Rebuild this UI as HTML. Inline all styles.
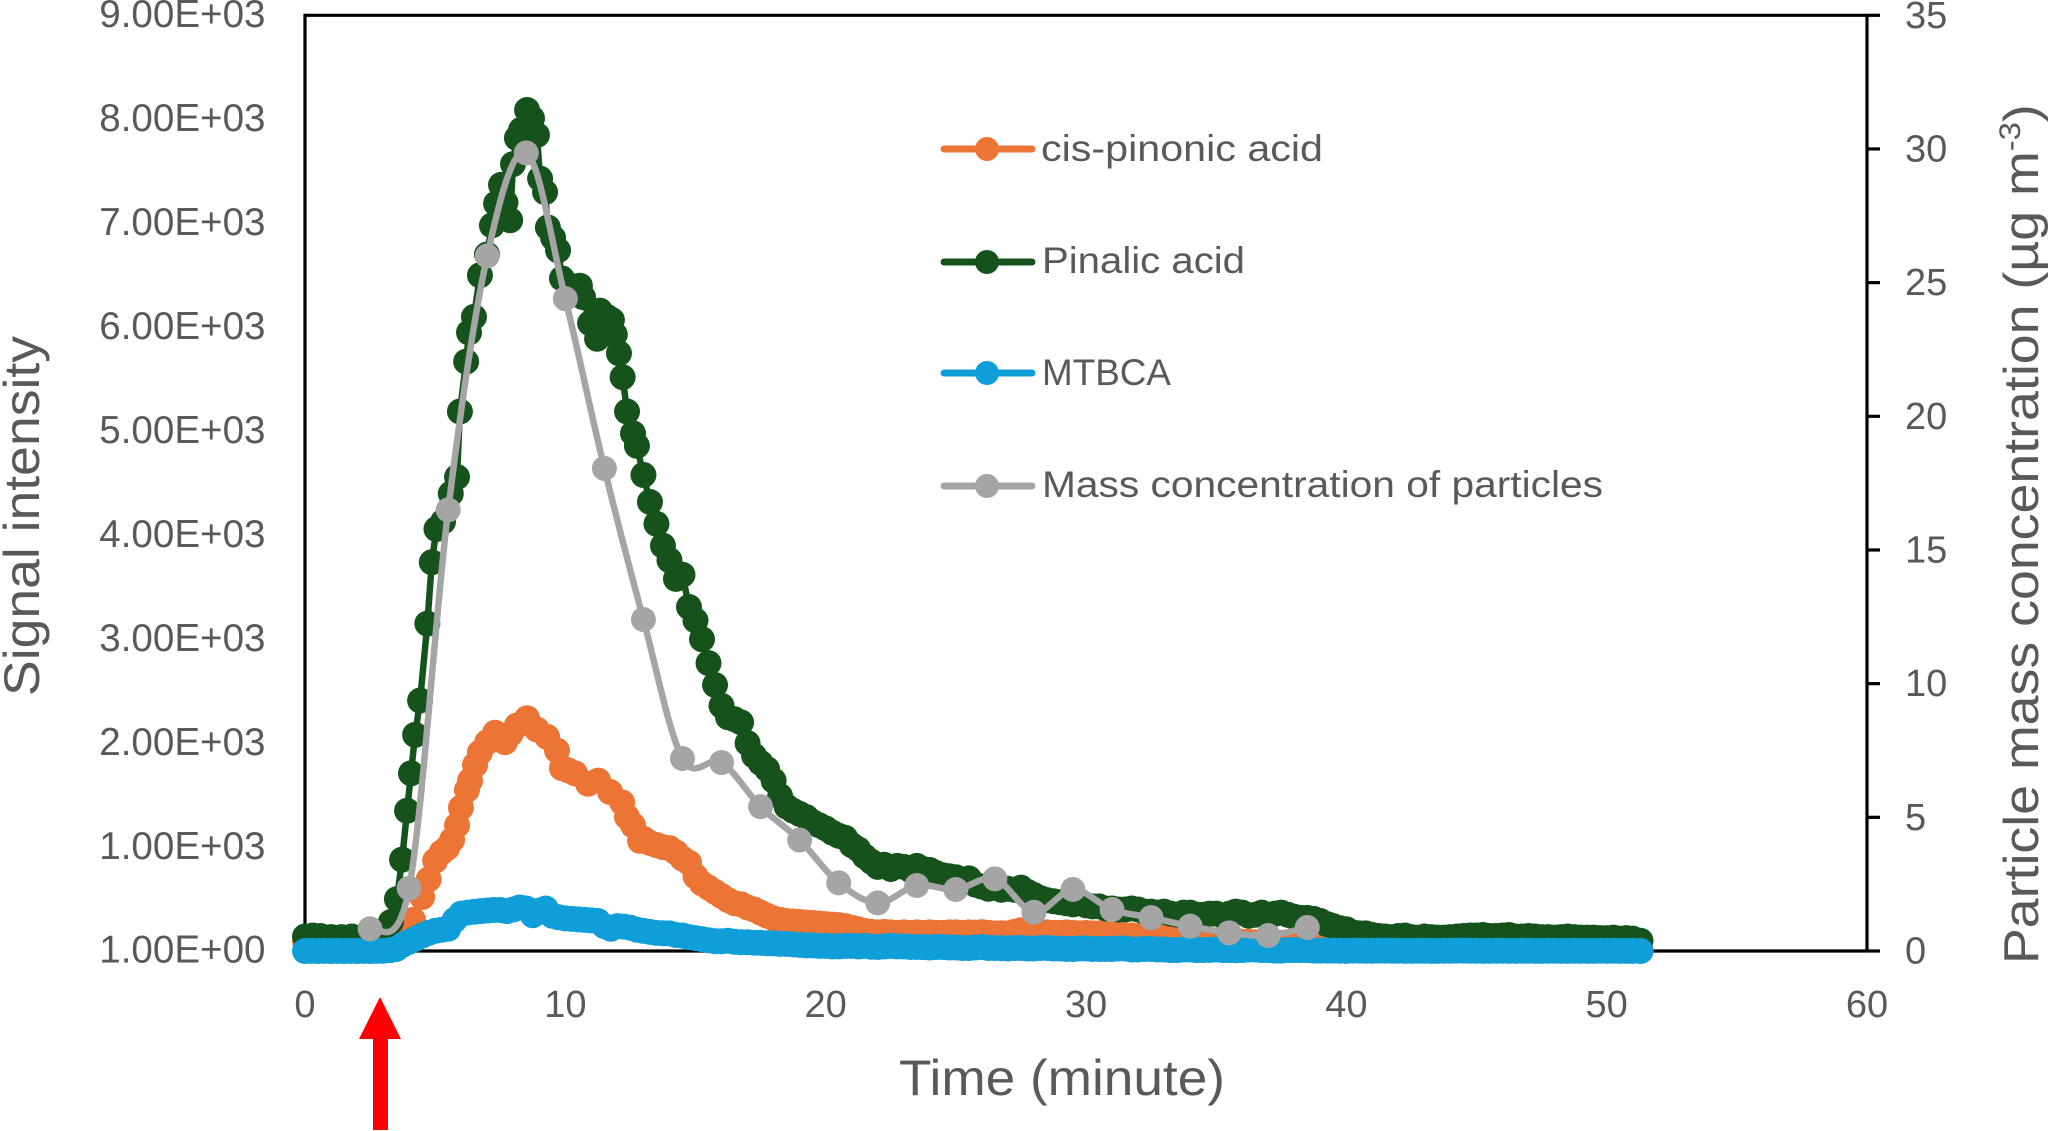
<!DOCTYPE html>
<html lang="en">
<head>
<meta charset="utf-8">
<title>Signal intensity and particle mass concentration over time</title>
<style>
  html, body { margin: 0; padding: 0; background: #fff; }
  body { width: 2049px; height: 1131px; overflow: hidden; }
  svg { display: block; font-family: "Liberation Sans", Arial, sans-serif; fill: #595959; }
</style>
</head>
<body>
<svg id="chart" xmlns="http://www.w3.org/2000/svg" width="2049" height="1131" viewBox="0 0 2049 1131">
  <rect x="0" y="0" width="2049" height="1131" fill="#ffffff"/>

  <g id="axes"></g>
  <g id="series"></g>
  <g id="labels"></g>

  <text transform="translate(39,696) rotate(-90)" font-size="50" textLength="360" lengthAdjust="spacingAndGlyphs">Signal intensity</text>
  <text x="899" y="1095" font-size="50" textLength="326" lengthAdjust="spacingAndGlyphs">Time (minute)</text>
  <text transform="translate(2038,964) rotate(-90) scale(1.096,1)" font-size="49">Particle mass concentration (µg m<tspan font-size="30" dy="-18">-3</tspan><tspan dy="18">)</tspan></text>

  <polygon fill="#ff0000" points="380,997 401,1039 388,1039 388,1130 373,1130 373,1039 359,1039"/>

  <g>
    <g>
      <line x1="944" x2="1032" y1="149" y2="149" stroke="#EC7434" stroke-width="7" stroke-linecap="round"/>
      <circle cx="987" cy="149" r="12" fill="#EC7434"/>
      <text x="1041" y="161" font-size="37" textLength="282" lengthAdjust="spacingAndGlyphs">cis-pinonic acid</text>
    </g>
    <g>
      <line x1="944" x2="1032" y1="262" y2="262" stroke="#15521C" stroke-width="7" stroke-linecap="round"/>
      <circle cx="987" cy="262" r="12" fill="#15521C"/>
      <text x="1042" y="273" font-size="37" textLength="203" lengthAdjust="spacingAndGlyphs">Pinalic acid</text>
    </g>
    <g>
      <line x1="944" x2="1032" y1="373" y2="373" stroke="#0F9ED8" stroke-width="7" stroke-linecap="round"/>
      <circle cx="987" cy="373" r="12" fill="#0F9ED8"/>
      <text x="1042" y="385" font-size="37" textLength="129" lengthAdjust="spacingAndGlyphs">MTBCA</text>
    </g>
    <g>
      <line x1="944" x2="1032" y1="486" y2="486" stroke="#A5A5A5" stroke-width="7" stroke-linecap="round"/>
      <circle cx="987" cy="486" r="12" fill="#A5A5A5"/>
      <text x="1042" y="497" font-size="37" textLength="561" lengthAdjust="spacingAndGlyphs">Mass concentration of particles</text>
    </g>
  </g>
</svg>

<script>
// ---- data ----
const xTicks = [0, 10, 20, 30, 40, 50, 60];
const leftTicks = [1, 1000, 2000, 3000, 4000, 5000, 6000, 7000, 8000, 9000];
const leftTickLabels = ['1.00E+00','1.00E+03','2.00E+03','3.00E+03','4.00E+03','5.00E+03','6.00E+03','7.00E+03','8.00E+03','9.00E+03'];
const rightTicks = [0, 5, 10, 15, 20, 25, 30, 35];

// sample times shared by the decay part of the three signal series
const tailTime = [
  13,13.25,13.5,13.75,14,14.25,14.5,14.75,
  15,15.25,15.5,15.75,16,16.25,16.5,16.75,
  17,17.25,17.5,17.75,18,18.25,18.5,18.75,
  19,19.25,19.5,19.75,20,20.25,20.5,20.75,
  21,21.25,21.5,21.75,22,22.25,22.5,22.75,
  23,23.25,23.5,23.75,24,24.25,24.5,24.75,
  25,25.25,25.5,25.75,26,26.25,26.5,26.75,
  27,27.25,27.5,27.75,28,28.25,28.5,28.75,
  29,29.25,29.5,29.75,30,30.25,30.5,30.75,
  31,31.25,31.5,31.75,32,32.25,32.5,32.75,
  33,33.25,33.5,33.75,34,34.25,34.5,34.75,
  35,35.25,35.5,35.75,36,36.25,36.5,36.75,
  37,37.25,37.5,37.75,38,38.25,38.5,38.75,
  39,39.25,39.5,39.75,40,40.25,40.5,40.75,
  41,41.25,41.5,41.75,42,42.25,42.5,42.75,
  43,43.25,43.5,43.75,44,44.25,44.5,44.75,
  45,45.25,45.5,45.75,46,46.25,46.5,46.75,
  47,47.25,47.5,47.75,48,48.25,48.5,48.75,
  49,49.25,49.5,49.75,50,50.25,50.5,50.75,
  51,51.3];

const orangeHeadTime = [0,0.5,1,1.5,2,2.5,3,3.3,3.6,3.9,4.15,4.5,4.75,5,5.25,5.45,5.65,5.84,5.99,6.22,6.34,6.53,6.72,7,7.3,7.68,7.9,8.14,8.53,8.91,9.3,9.68,9.87,10.1,10.37,10.87,11.26,11.72,12.18,12.37,12.6,12.87];
const orangeHeadValues = [90,90,90,90,90,90,95,100,130,200,300,520,690,870,950,990,1070,1210,1380,1550,1640,1790,1910,2010,2100,2010,2090,2170,2240,2130,2060,1930,1760,1740,1710,1610,1640,1530,1430,1290,1210,1060];
const orangeTailValues = [
  1080,1040,1020,1000,990,950,890,850,
  720,650,610,570,530,490,460,450,
  420,400,370,340,315,300,290,285,
  280,275,270,265,260,255,250,240,
  225,210,195,185,180,185,180,175,
  180,175,180,175,180,175,175,180,
  180,175,180,178,182,175,170,172,
  170,185,200,190,190,185,180,175,
  175,180,175,170,175,170,170,165,
  170,160,150,150,145,140,135,130,
  130,125,125,120,110,100,105,100,
  95,90,95,85,90,90,85,90,
  90,85,80,80,75,75,75,60,
  45,40,35,30,30,25,25,25,
  20,20,20,20,20,20,20,20,
  20,20,20,20,20,20,20,20,
  15,15,15,15,15,15,15,15,
  15,15,15,15,15,15,15,15,
  10,10,10,10,10,10,10,10,
  10,10];

const greenHeadTime = [0,0.3,0.6,1,1.4,1.8,2.2,2.6,3,3.3,3.53,3.73,3.92,4.07,4.23,4.42,4.7,4.87,5.05,5.3,5.6,5.84,5.95,6.19,6.3,6.49,6.72,6.99,7.18,7.34,7.53,7.7,7.88,7.99,8.14,8.3,8.53,8.72,8.91,9.03,9.22,9.33,9.53,9.72,9.87,10.2,10.56,10.68,10.95,11.22,11.33,11.6,11.79,11.9,12.06,12.2,12.37,12.6,12.75];
const greenHeadValues = [140,150,145,135,135,140,135,140,150,280,500,880,1350,1710,2080,2410,3150,3740,4060,4130,4400,4560,5190,5670,5950,6100,6500,6700,6980,7190,7370,7200,7030,7570,7820,7900,8090,8010,7850,7430,7300,6960,6860,6740,6470,6400,6400,6290,6040,5890,6160,6100,6070,5930,5750,5520,5190,4980,4860];
const greenTailValues = [
  4580,4320,4110,3900,3760,3580,3620,3310,
  3180,3000,2770,2560,2360,2250,2230,2200,
  2000,1880,1810,1750,1640,1490,1390,1350,
  1320,1290,1240,1210,1180,1140,1110,1090,
  1020,980,910,860,810,830,790,820,
  810,780,820,790,780,750,730,720,
  710,680,700,640,620,600,610,590,
  600,590,610,570,540,510,490,480,
  470,460,450,460,440,430,430,410,
  410,400,400,410,400,380,380,370,
  380,360,350,370,370,350,350,360,
  360,340,360,380,370,340,350,370,
  340,360,370,350,330,320,320,310,
  290,260,240,220,210,180,170,170,
  155,145,140,135,145,150,135,130,
  140,135,130,130,135,140,145,150,
  150,155,145,145,150,155,140,140,
  145,140,135,135,130,135,140,135,
  130,130,130,125,125,130,120,125,
  120,100];

const blueHeadTime = [
  0,0.25,0.5,0.75,1,1.25,1.5,1.75,
  2,2.25,2.5,2.75,3,3.25,3.5,3.75,
  4,4.25,4.5,4.75,5,5.25,5.5,5.75,
  6,6.25,6.5,6.75,7,7.25,7.5,7.75,
  8,8.25,8.5,8.75,9,9.25,9.5,9.75,
  10,10.25,10.5,10.75,11,11.25,11.5,11.75,
  12,12.25,12.5,12.75];
const blueHeadValues = [
  1,2,1,2,1,2,1,2,
  1,2,1,2,3,8,20,60,
  90,120,150,175,195,205,215,300,
  360,370,378,385,390,395,395,385,
  400,420,410,345,390,410,340,325,
  315,310,305,300,295,290,240,215,
  240,235,225,205];
const blueTailValues = [
  195,185,175,172,170,155,150,135,
  125,115,105,95,95,100,90,85,
  85,80,80,75,75,70,70,65,
  60,55,55,50,50,45,45,50,
  50,45,50,42,40,45,50,45,
  45,40,40,38,35,40,40,35,
  35,30,30,35,40,30,30,28,
  25,30,30,25,25,30,30,25,
  25,20,20,25,25,20,20,20,
  20,25,25,15,15,20,20,15,
  15,10,10,15,15,10,10,12,
  15,10,10,8,10,15,15,10,
  10,5,5,10,10,10,10,5,
  5,5,5,3,2,5,5,3,
  3,5,5,3,3,2,2,4,
  4,2,2,3,3,5,5,3,
  3,2,2,4,4,2,2,3,
  3,2,2,3,3,2,2,3,
  2,2,2,3,2,3,2,2,
  2,1];

const massTime = [2.5,4,5.5,7,8.5,10,11.5,13,14.5,16,17.5,19,20.5,22,23.5,25,26.5,28,29.5,31,32.5,34,35.5,37,38.5];
const massValues = [0.83,2.35,16.5,26.0,29.85,24.4,18.05,12.4,7.2,7.05,5.4,4.15,2.55,1.8,2.45,2.3,2.7,1.45,2.3,1.55,1.25,0.93,0.68,0.58,0.88];

// ---- axis functions ----
const PLOT = { left: 305, right: 1867, top: 15.3, bottom: 951 };
function xScale(t) { return PLOT.left + (t / 60) * (PLOT.right - PLOT.left); }
function yLeft(v) { return PLOT.bottom - ((v - 1) / 9000) * (PLOT.bottom - PLOT.top); }
function yRight(v) { return PLOT.bottom - (v / 35) * (PLOT.bottom - PLOT.top); }

const NS = 'http://www.w3.org/2000/svg';
function make(tag, parent) {
  const el = document.createElementNS(NS, tag);
  parent.appendChild(el);
  return el;
}
function setAll(el, attrs) {
  for (const key in attrs) { el.setAttribute(key, attrs[key]); }
}

const axesLayer = document.getElementById('axes');
const seriesLayer = document.getElementById('series');
const labelLayer = document.getElementById('labels');

// ---- axis frame ----
const leftAxis = make('line', axesLayer);


setAll(leftAxis, { x1: PLOT.left, x2: PLOT.left, y1: PLOT.top - 1.6, y2: PLOT.bottom, stroke: '#000', 'stroke-width': 3.2 });

const topAxis = make('line', axesLayer);


setAll(topAxis, { x1: PLOT.left, x2: PLOT.right, y1: PLOT.top, y2: PLOT.top, stroke: '#000', 'stroke-width': 3.2 });

const rightAxis = make('line', axesLayer);


setAll(rightAxis, { x1: PLOT.right, x2: PLOT.right, y1: PLOT.top, y2: PLOT.bottom, stroke: '#000', 'stroke-width': 3.2 });

const bottomAxis = make('line', axesLayer);


setAll(bottomAxis, { x1: PLOT.left, x2: PLOT.right, y1: PLOT.bottom, y2: PLOT.bottom, stroke: '#000', 'stroke-width': 3.2 });

// ---- ticks and labels ----
xTicks.forEach(function (t) {
  const label = make('text', labelLayer);
  
  
  setAll(label, { x: xScale(t), y: 1017, 'font-size': 38, 'text-anchor': 'middle' });
  label.textContent = String(t);
});

leftTicks.forEach(function (v, i) {
  const label = make('text', labelLayer);
  
  
  setAll(label, { x: 265.5, y: yLeft(v) + 11.7, 'font-size': 38.6, 'text-anchor': 'end' });
  label.textContent = leftTickLabels[i];
});

rightTicks.forEach(function (v) {
  const tick = make('line', axesLayer);
  
  
  setAll(tick, { x1: PLOT.right, x2: PLOT.right + 13, y1: yRight(v), y2: yRight(v), stroke: '#000', 'stroke-width': 3.2 });

  const label = make('text', labelLayer);
  
  
  setAll(label, { x: 1905, y: yRight(v) + 12.5, 'font-size': 38 });
  label.textContent = String(v);
});

// ---- series ----
function straightPath(points) {
  return points.map(function (p, i) { return (i ? 'L' : 'M') + p[0].toFixed(2) + ' ' + p[1].toFixed(2); }).join(' ');
}
function smoothPath(points) {
  let d = 'M' + points[0][0].toFixed(2) + ' ' + points[0][1].toFixed(2);
  for (let i = 0; i < points.length - 1; i++) {
    const p0 = points[Math.max(0, i - 1)];
    const p1 = points[i];
    const p2 = points[i + 1];
    const p3 = points[Math.min(points.length - 1, i + 2)];
    const c1x = p1[0] + (p2[0] - p0[0]) / 6;
    const c1y = p1[1] + (p2[1] - p0[1]) / 6;
    const c2x = p2[0] - (p3[0] - p1[0]) / 6;
    const c2y = p2[1] - (p3[1] - p1[1]) / 6;
    d += ' C' + c1x.toFixed(2) + ' ' + c1y.toFixed(2) + ' ' + c2x.toFixed(2) + ' ' + c2y.toFixed(2) + ' ' + p2[0].toFixed(2) + ' ' + p2[1].toFixed(2);
  }
  return d;
}

function drawSeries(group, times, values, yScale, color, smooth, radius) {
  const points = times.map(function (t, i) { return [xScale(t), yScale(values[i])]; });

  const line = make('path', group);
  
  
  setAll(line, { d: smooth ? smoothPath(points) : straightPath(points), fill: 'none', stroke: color, 'stroke-width': 6.5, 'stroke-linejoin': 'round' });

  points.forEach(function (p) {
    const dot = make('circle', group);
    
    
    setAll(dot, { cx: p[0].toFixed(2), cy: p[1].toFixed(2), r: radius, fill: color });
  });
}

const orangeGroup = make('g', seriesLayer);


drawSeries(orangeGroup, orangeHeadTime.concat(tailTime), orangeHeadValues.concat(orangeTailValues), yLeft, '#EC7434', false, 13);

const greenGroup = make('g', seriesLayer);


drawSeries(greenGroup, greenHeadTime.concat(tailTime), greenHeadValues.concat(greenTailValues), yLeft, '#15521C', false, 13);

const blueGroup = make('g', seriesLayer);


drawSeries(blueGroup, blueHeadTime.concat(tailTime), blueHeadValues.concat(blueTailValues), yLeft, '#0F9ED8', false, 13);

const massGroup = make('g', seriesLayer);


drawSeries(massGroup, massTime, massValues, yRight, '#A5A5A5', true, 12.5);
</script>
</body>
</html>
